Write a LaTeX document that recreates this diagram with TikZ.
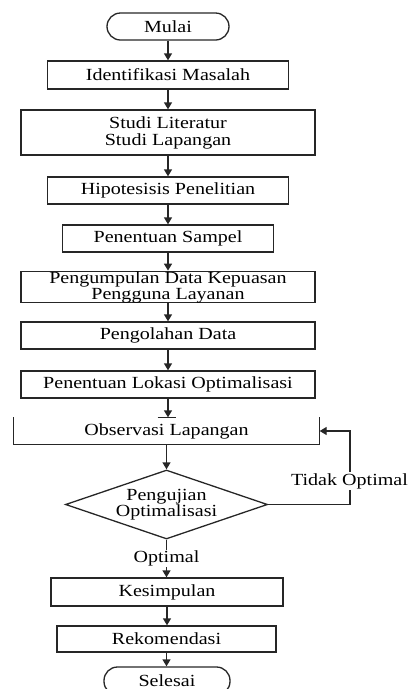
\documentclass[tikz,border=0pt]{standalone}
\usepackage{fontspec}
\setmainfont[FakeStretch=1.18]{Liberation Serif}
\usetikzlibrary{arrows.meta,shapes.geometric}
\tikzset{
  ln/.style={line width=1.3pt, draw=black!85},
  box/.style={ln, rectangle, inner sep=0pt, align=center, font=\fontsize{17}{15}\selectfont},
  term/.style={box, rounded corners=13.5pt},
  dec/.style={ln, diamond, aspect=2.93, inner sep=0pt, align=center, font=\fontsize{17}{15}\selectfont},
  arr/.style={ln, -{Triangle[width=8pt,length=7pt]}},
  lbl/.style={fill=white, inner sep=1pt, font=\fontsize{17}{14}\selectfont}
}
\begin{document}
\begin{tikzpicture}[x=1pt,y=-1pt]
\useasboundingbox (0,0) rectangle (411,689);
\node[term, minimum width=122pt, minimum height=27pt] (mulai) at (168,26.5) {Mulai};
\node[box, minimum width=241pt, minimum height=28pt] (idm) at (168,75) {Identifikasi Masalah};
\node[box, minimum width=294pt, minimum height=45pt, font=\fontsize{17}{17}\selectfont] (stl) at (168,132.5) {Studi Literatur\\Studi Lapangan};
\node[box, minimum width=241pt, minimum height=27pt] (hip) at (168,190.5) {Hipotesisis Penelitian};
\node[box, minimum width=211pt, minimum height=27pt] (smp) at (168,238.5) {Penentuan Sampel};
\node[box, minimum width=294pt, minimum height=28pt, font=\fontsize{17}{16}\selectfont] (pdk) at (168,287) {Pengumpulan Data Kepuasan\\Pengguna Layanan};
\node[box, minimum width=294pt, minimum height=27pt] (pgd) at (168,335.5) {Pengolahan Data};
\node[box, minimum width=294pt, minimum height=27pt] (plo) at (168,384.5) {Penentuan Lokasi Optimalisasi};
\node[box, draw=none, minimum width=305pt, minimum height=26pt] (obs) at (166.5,431) {Observasi Lapangan};
\node[dec, minimum width=202pt, minimum height=69pt, font=\fontsize{17}{16}\selectfont] (dia) at (166.5,504.5) {Pengujian\\Optimalisasi};
\node[box, minimum width=232pt, minimum height=28pt] (kes) at (167,592) {Kesimpulan};
\node[box, minimum width=219pt, minimum height=26pt] (rek) at (166.5,639) {Rekomendasi};
\node[term, minimum width=126pt, minimum height=28pt] (sls) at (167,681) {Selesai};
\coordinate (fb) at (350,431);

\draw[ln] (obs.north west) -- (obs.south west) -- (obs.south east) -- (obs.north east);
\draw[ln] ([xshift=-9pt]obs.north) -- ([xshift=9pt]obs.north);

\draw[arr] (mulai.south) -- (mulai.south |- idm.north);
\draw[arr] (idm.south) -- (idm.south |- stl.north);
\draw[arr] (stl.south) -- (stl.south |- hip.north);
\draw[arr] (hip.south) -- (hip.south |- smp.north);
\draw[arr] (smp.south) -- (smp.south |- pdk.north);
\draw[arr] (pdk.south) -- (pdk.south |- pgd.north);
\draw[arr] (pgd.south) -- (pgd.south |- plo.north);
\draw[arr] (plo.south) -- (plo.south |- obs.north);
\draw[arr] (obs.south) -- (obs.south |- dia.north);
\draw[arr] (dia.south) -- (dia.south |- kes.north) node[lbl, pos=0.5] {Optimal};
\draw[arr] (kes.south) -- (kes.south |- rek.north);
\draw[arr] (rek.south) -- (rek.south |- sls.north);
\draw[arr] (dia.east) -| (fb) -- (obs.east);
\node[lbl] (tdk) at (349.5,481) {Tidak Optimal};
\end{tikzpicture}
\end{document}
